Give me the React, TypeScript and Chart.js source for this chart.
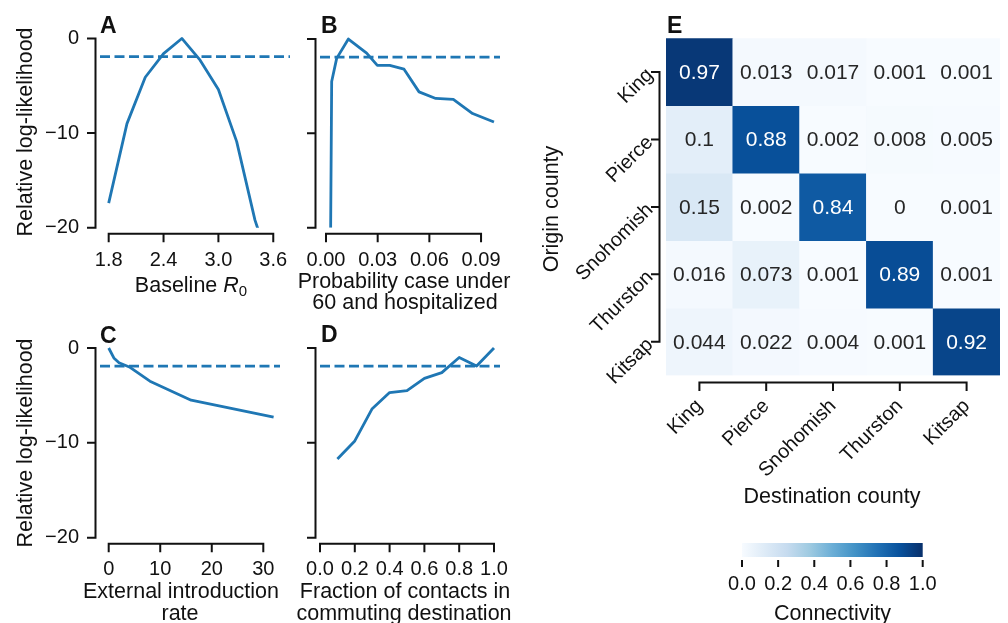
import React, { useEffect, useRef } from 'react';
import { Chart, registerables } from 'chart.js';

Chart.register(...registerables);

const PAGE_W = 1008;
const PAGE_H = 623;
const FONT = "'Liberation Sans', Arial, Helvetica, sans-serif";
const INK = '#111111';
const LINE_BLUE = '#1f77b4';
const TICK_PX = 20;
const LABEL_PX = 21.5;
const LETTER_PX = 23;
const CELL_PX = 21;
const THRESHOLD = -1.92;

// ---------- Panel A: baseline R0 ----------
const r0Values = [1.8, 2.0, 2.2, 2.4, 2.6, 2.8, 3.0, 3.2, 3.4, 3.6];
const r0LogLik = [-17.4, -9.0, -4.1, -1.6, 0, -2.3, -5.4, -10.9, -19.2, -25];
const r0Ticks = [1.8, 2.4, 3.0, 3.6];

// ---------- Panel B: probability under 60 hospitalized ----------
const hospProb = [0.0027, 0.0033, 0.0062, 0.013, 0.0236, 0.0298, 0.037, 0.0453, 0.054, 0.0637, 0.0739, 0.0851, 0.0975];
const hospLogLik = [-20, -4.5, -2.05, 0, -1.5, -2.8, -2.8, -3.2, -5.6, -6.3, -6.4, -7.9, -8.8];
const hospTicks = [0, 0.03, 0.06, 0.09];

// ---------- Panel C: external introduction rate ----------
const introRate = [0, 1, 2, 4, 8, 16, 32];
const introLogLik = [0, -1.05, -1.55, -2.0, -3.5, -5.5, -7.3];
const introTicks = [0, 10, 20, 30];

// ---------- Panel D: fraction of contacts in commuting destination ----------
const contactFrac = [0.1, 0.2, 0.3, 0.4, 0.5, 0.6, 0.7, 0.8, 0.9, 1.0];
const contactLogLik = [-11.7, -9.8, -6.4, -4.7, -4.5, -3.2, -2.6, -1.0, -1.9, 0];
const fracTicks = [0, 0.2, 0.4, 0.6, 0.8, 1.0];

const logLikTicks = [0, -10, -20];

// ---------- Panel E: connectivity ----------
const counties = ['King', 'Pierce', 'Snohomish', 'Thurston', 'Kitsap'];
const kingRow = [0.97, 0.013, 0.017, 0.001, 0.001];
const pierceRow = [0.1, 0.88, 0.002, 0.008, 0.005];
const snohomishRow = [0.15, 0.002, 0.84, 0, 0.001];
const thurstonRow = [0.016, 0.073, 0.001, 0.89, 0.001];
const kitsapRow = [0.044, 0.022, 0.004, 0.001, 0.92];
const connectivity = [kingRow, pierceRow, snohomishRow, thurstonRow, kitsapRow];
const colorbarTicks = [0, 0.2, 0.4, 0.6, 0.8, 1.0];

const BLUES = ['#f7fbff', '#deebf7', '#c6dbef', '#9ecae1', '#6baed6', '#4292c6', '#2171b5', '#08519c', '#08306b'];

function hexToRgb(h: string) {
  const n = parseInt(h.slice(1), 16);
  return [(n >> 16) & 255, (n >> 8) & 255, n & 255];
}
function blues(v: number) {
  const t = Math.max(0, Math.min(1, v)) * (BLUES.length - 1);
  const i = Math.min(Math.floor(t), BLUES.length - 2);
  const f = t - i;
  const a = hexToRgb(BLUES[i]);
  const b = hexToRgb(BLUES[i + 1]);
  const c = a.map((x, k) => Math.round(x + (b[k] - x) * f));
  return `rgb(${c[0]},${c[1]},${c[2]})`;
}

function fmtMinus(v: number) {
  return v < 0 ? '\u2212' + Math.abs(v) : String(v);
}

const labelFont = `${LABEL_PX}px ${FONT}`;
const letterFont = `bold ${LETTER_PX}px ${FONT}`;

type Run = { text: string; font: string; dy?: number };
type TextItem = {
  text?: string;
  runs?: Run[];
  font?: string;
  x: number;
  y: number;
  align?: 'left' | 'center' | 'right';
  rotate?: number;
  baseline?: CanvasTextBaseline;
  color?: string;
};

function textPlugin(items: TextItem[]) {
  return {
    id: 'pageTexts',
    afterDraw(chart: any) {
      const ctx = chart.ctx as CanvasRenderingContext2D;
      for (const it of items) {
        ctx.save();
        ctx.translate(it.x, it.y);
        if (it.rotate) ctx.rotate(it.rotate);
        ctx.fillStyle = it.color || INK;
        ctx.textBaseline = it.baseline || 'alphabetic';
        ctx.textAlign = 'left';
        const runs: Run[] = it.runs || [{ text: it.text || '', font: it.font || labelFont }];
        let total = 0;
        const widths: number[] = [];
        for (const r of runs) {
          ctx.font = r.font;
          const w = ctx.measureText(r.text).width;
          widths.push(w);
          total += w;
        }
        const align = it.align || 'left';
        let x = align === 'center' ? -total / 2 : align === 'right' ? -total : 0;
        runs.forEach((r, i) => {
          ctx.font = r.font;
          ctx.fillText(r.text, x, r.dy || 0);
          x += widths[i];
        });
        ctx.restore();
      }
    },
  };
}

type SpineCfg = { offset: number; len: number; spine?: boolean };
function spinePlugin(cfg: { x?: SpineCfg; y?: SpineCfg }) {
  return {
    id: 'trimmedSpines',
    afterDraw(chart: any) {
      const ctx = chart.ctx as CanvasRenderingContext2D;
      const ca = chart.chartArea;
      ctx.save();
      ctx.strokeStyle = INK;
      ctx.lineWidth = 2;
      ctx.lineCap = 'butt';
      if (cfg.x) {
        const s = chart.scales.x;
        const px = s.ticks.map((_: any, i: number) => s.getPixelForTick(i));
        const y = ca.bottom + cfg.x.offset;
        ctx.beginPath();
        if (cfg.x.spine !== false) {
          ctx.moveTo(Math.min(...px) - 1, y);
          ctx.lineTo(Math.max(...px) + 1, y);
        }
        for (const p of px) {
          ctx.moveTo(p, y);
          ctx.lineTo(p, y + cfg.x.len);
        }
        ctx.stroke();
      }
      if (cfg.y) {
        const s = chart.scales.y;
        const py = s.ticks.map((_: any, i: number) => s.getPixelForTick(i));
        const x = ca.left - cfg.y.offset;
        ctx.beginPath();
        if (cfg.y.spine !== false) {
          ctx.moveTo(x, Math.min(...py) - 1);
          ctx.lineTo(x, Math.max(...py) + 1);
        }
        for (const p of py) {
          ctx.moveTo(x, p);
          ctx.lineTo(x - cfg.y.len, p);
        }
        ctx.stroke();
      }
      ctx.restore();
    },
  };
}

const cellTextPlugin = {
  id: 'cellText',
  afterDatasetsDraw(chart: any) {
    const ctx = chart.ctx as CanvasRenderingContext2D;
    ctx.save();
    ctx.font = `${CELL_PX}px ${FONT}`;
    ctx.textAlign = 'center';
    ctx.textBaseline = 'middle';
    connectivity.forEach((row, i) => {
      const meta = chart.getDatasetMeta(i);
      row.forEach((v, j) => {
        const el = meta.data[j];
        if (!el) return;
        const cy = (el.y + el.base) / 2;
        ctx.fillStyle = v > 0.5 ? '#ffffff' : '#262626';
        ctx.fillText(String(v), el.x, cy + 1);
      });
    });
    ctx.restore();
  },
};

type Area = { l: number; r: number; t: number; b: number };

function linePanel(o: {
  xs: number[];
  ys: number[];
  xMin: number;
  xMax: number;
  xTicks: number[];
  xFmt: (v: number) => string;
  xPad: number;
  area: Area;
  showY: boolean;
  texts: TextItem[];
}) {
  const X_H = 45;
  return {
    type: 'line',
    data: {
      datasets: [
        {
          data: [
            { x: o.xMin, y: THRESHOLD },
            { x: o.xMax, y: THRESHOLD },
          ],
          borderColor: LINE_BLUE,
          borderWidth: 2.7,
          borderDash: [10, 4.5],
          pointRadius: 0,
          fill: false,
          tension: 0,
        },
        {
          data: o.xs.map((x, i) => ({ x, y: o.ys[i] })),
          borderColor: LINE_BLUE,
          borderWidth: 2.8,
          pointRadius: 0,
          fill: false,
          tension: 0,
          borderJoinStyle: 'round',
        },
      ],
    },
    options: {
      responsive: false,
      animation: false,
      devicePixelRatio: 1,
      events: [],
      layout: {
        autoPadding: false,
        padding: { left: 0, right: PAGE_W - o.area.r, top: o.area.t, bottom: PAGE_H - o.area.b - X_H },
      },
      plugins: { legend: { display: false }, tooltip: { enabled: false } },
      scales: {
        x: {
          type: 'linear',
          min: o.xMin,
          max: o.xMax,
          afterBuildTicks: (s: any) => {
            s.ticks = o.xTicks.map((value) => ({ value }));
          },
          afterFit: (s: any) => {
            s.height = X_H;
          },
          grid: { display: false, drawTicks: false },
          border: { display: false },
          ticks: {
            autoSkip: false,
            maxRotation: 0,
            minRotation: 0,
            padding: o.xPad,
            color: INK,
            font: { family: FONT, size: TICK_PX },
            callback: (v: any) => o.xFmt(Number(v)),
          },
        },
        y: {
          type: 'linear',
          min: -20,
          max: 1,
          afterBuildTicks: (s: any) => {
            s.ticks = logLikTicks.map((value) => ({ value }));
          },
          afterFit: (s: any) => {
            s.width = o.area.l;
          },
          // invisible tick-mark length is used as the label gap (keeps vertical padding small)
          grid: { display: false, drawTicks: true, tickLength: 21 },
          border: { display: false },
          ticks: {
            display: o.showY,
            padding: 0,
            color: INK,
            font: { family: FONT, size: TICK_PX },
            callback: (v: any) => fmtMinus(Number(v)),
          },
        },
      },
    },
    plugins: [spinePlugin({ x: { offset: 6, len: 8.5 }, y: { offset: 4.5, len: 8.5 } }), textPlugin(o.texts)],
  };
}

function panelA() {
  return linePanel({
    xs: r0Values,
    ys: r0LogLik,
    xMin: 1.705,
    xMax: 3.783,
    xTicks: r0Ticks,
    xFmt: (v) => v.toFixed(1),
    xPad: 21,
    area: { l: 100, r: 290, t: 29.0, b: 227.7 },
    showY: true,
    texts: [
      { text: 'A', font: letterFont, x: 100, y: 33.3 },
      { text: 'Relative log-likelihood', font: labelFont, x: 26, y: 132, rotate: -Math.PI / 2, align: 'center', baseline: 'middle' },
      {
        runs: [
          { text: 'Baseline ', font: labelFont },
          { text: 'R', font: `italic ${LABEL_PX}px ${FONT}` },
          { text: '0', font: `${Math.round(LABEL_PX * 0.7)}px ${FONT}`, dy: 4 },
        ],
        x: 191,
        y: 291.7,
        align: 'center',
      },
    ],
  });
}

function panelB() {
  return linePanel({
    xs: hospProb,
    ys: hospLogLik,
    xMin: -0.00348,
    xMax: 0.101,
    xTicks: hospTicks,
    xFmt: (v) => v.toFixed(2),
    xPad: 21,
    area: { l: 320, r: 500, t: 29.6, b: 227.7 },
    showY: false,
    texts: [
      { text: 'B', font: letterFont, x: 321, y: 33.3 },
      { text: 'Probability case under', font: labelFont, x: 404, y: 287.5, align: 'center' },
      { text: '60 and hospitalized', font: labelFont, x: 405, y: 308.8, align: 'center' },
    ],
  });
}

function panelC() {
  return linePanel({
    xs: introRate,
    ys: introLogLik,
    xMin: -1.688,
    xMax: 33.24,
    xTicks: introTicks,
    xFmt: (v) => String(Math.round(v)),
    xPad: 19.6,
    area: { l: 100, r: 280, t: 338.5, b: 537.7 },
    showY: true,
    texts: [
      { text: 'C', font: letterFont, x: 100, y: 343.3 },
      { text: 'Relative log-likelihood', font: labelFont, x: 26, y: 443, rotate: -Math.PI / 2, align: 'center', baseline: 'middle' },
      { text: 'External introduction', font: labelFont, x: 181, y: 598.3, align: 'center' },
      { text: 'rate', font: labelFont, x: 180, y: 620, align: 'center' },
    ],
  });
}

function panelD() {
  return linePanel({
    xs: contactFrac,
    ys: contactLogLik,
    xMin: 0,
    xMax: 1.0345,
    xTicks: fracTicks,
    xFmt: (v) => v.toFixed(1),
    xPad: 19.6,
    area: { l: 320, r: 500, t: 338.5, b: 537.7 },
    showY: false,
    texts: [
      { text: 'D', font: letterFont, x: 321, y: 341.7 },
      { text: 'Fraction of contacts in', font: labelFont, x: 405, y: 598.3, align: 'center' },
      { text: 'commuting destination', font: labelFont, x: 404, y: 620, align: 'center' },
    ],
  });
}

function heatmap() {
  const L = 666;
  const R = 1000;
  const T = 38.3;
  const B = 375.5;
  const X_H = 130;
  return {
    type: 'bar',
    data: {
      labels: counties,
      datasets: connectivity.map((row, i) => ({
        label: counties[i],
        data: row.map(() => [i - 0.5, i + 0.5]),
        backgroundColor: row.map(blues),
        borderWidth: 0,
        barPercentage: 1,
        categoryPercentage: 1,
        grouped: false,
      })),
    },
    options: {
      responsive: false,
      animation: false,
      devicePixelRatio: 1,
      events: [],
      layout: {
        autoPadding: false,
        padding: { left: 0, right: PAGE_W - R, top: T, bottom: PAGE_H - B - X_H },
      },
      plugins: { legend: { display: false }, tooltip: { enabled: false } },
      scales: {
        x: {
          type: 'category',
          offset: true,
          afterFit: (s: any) => {
            s.height = X_H;
          },
          grid: { display: false, drawTicks: false },
          border: { display: false },
          ticks: {
            autoSkip: false,
            minRotation: 45,
            maxRotation: 45,
            padding: 19,
            color: INK,
            font: { family: FONT, size: TICK_PX },
          },
        },
        y: {
          type: 'linear',
          reverse: true,
          min: -0.5,
          max: 4.5,
          afterBuildTicks: (s: any) => {
            s.ticks = counties.map((_, i) => ({ value: i }));
          },
          afterFit: (s: any) => {
            s.width = L;
          },
          grid: { display: false, drawTicks: false },
          border: { display: false },
          ticks: {
            minRotation: 45,
            maxRotation: 45,
            padding: 16,
            color: INK,
            font: { family: FONT, size: TICK_PX },
            callback: (v: any) => counties[Math.round(Number(v))],
          },
        },
      },
    },
    plugins: [
      spinePlugin({ x: { offset: 7, len: 8.5 }, y: { offset: 6.5, len: 8.5 } }),
      cellTextPlugin,
      textPlugin([
        { text: 'E', font: letterFont, x: 667, y: 33 },
        { text: 'Origin county', font: labelFont, x: 552, y: 209, rotate: -Math.PI / 2, align: 'center', baseline: 'middle' },
        { text: 'Destination county', font: labelFont, x: 832, y: 503.3, align: 'center' },
      ]),
    ],
  };
}

function colorbar() {
  const L = 742;
  const R = 922.7;
  const T = 543;
  const B = 557;
  const X_H = 55;
  return {
    type: 'bar',
    data: {
      labels: ['Connectivity'],
      datasets: [
        {
          data: [[colorbarTicks[0], colorbarTicks[colorbarTicks.length - 1]]],
          backgroundColor: (c: any) => {
            const ca = c.chart.chartArea;
            if (!ca) return BLUES[4];
            const g = c.chart.ctx.createLinearGradient(ca.left, 0, ca.right, 0);
            BLUES.forEach((col, i) => g.addColorStop(i / (BLUES.length - 1), col));
            return g;
          },
          borderWidth: 0,
          barPercentage: 1,
          categoryPercentage: 1,
        },
      ],
    },
    options: {
      indexAxis: 'y',
      responsive: false,
      animation: false,
      devicePixelRatio: 1,
      events: [],
      layout: {
        autoPadding: false,
        padding: { left: L, right: PAGE_W - R, top: T, bottom: PAGE_H - B - X_H },
      },
      plugins: { legend: { display: false }, tooltip: { enabled: false } },
      scales: {
        x: {
          type: 'linear',
          min: 0,
          max: 1,
          afterBuildTicks: (s: any) => {
            s.ticks = colorbarTicks.map((value) => ({ value }));
          },
          afterFit: (s: any) => {
            s.height = X_H;
          },
          grid: { display: false, drawTicks: false },
          border: { display: false },
          ticks: {
            autoSkip: false,
            maxRotation: 0,
            padding: 15,
            color: INK,
            font: { family: FONT, size: TICK_PX },
            callback: (v: any) => Number(v).toFixed(1),
          },
        },
        y: { type: 'category', display: false },
      },
    },
    plugins: [
      spinePlugin({ x: { offset: 3, len: 7, spine: false } }),
      textPlugin([{ text: 'Connectivity', font: labelFont, x: 832.5, y: 620, align: 'center' }]),
    ],
  };
}

function ChartCanvas({ make }: { make: () => any }) {
  const ref = useRef<HTMLCanvasElement>(null);
  useEffect(() => {
    if (!ref.current) return;
    const chart = new Chart(ref.current, make());
    return () => chart.destroy();
  }, [make]);
  return (
    <canvas
      ref={ref}
      width={PAGE_W}
      height={PAGE_H}
      style={{ position: 'absolute', left: 0, top: 0, width: PAGE_W, height: PAGE_H }}
    />
  );
}

const factories = [panelA, panelB, panelC, panelD, heatmap, colorbar];

export default function App() {
  return (
    <div style={{ position: 'absolute', left: 0, top: 0, width: PAGE_W, height: PAGE_H, background: '#ffffff', overflow: 'hidden' }}>
      {factories.map((f, i) => (
        <ChartCanvas key={i} make={f} />
      ))}
    </div>
  );
}
